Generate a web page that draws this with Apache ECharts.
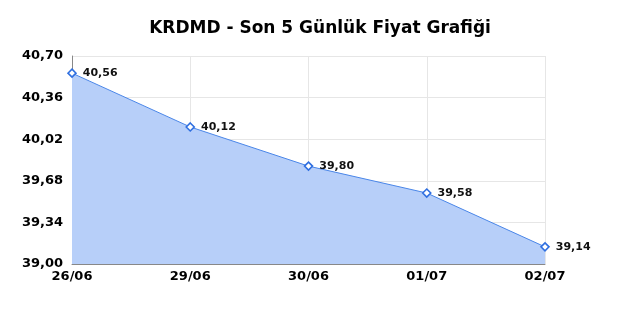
<!DOCTYPE html>
<html><head><meta charset="utf-8">
<script src="https://cdn.jsdelivr.net/npm/echarts@6/dist/echarts.min.js"></script>
<style>html,body{margin:0;padding:0;background:#fff}#c{width:640px;height:320px}</style>
</head><body><div id="c"></div>
<script>
const categories = ['26/06','29/06','30/06','01/07','02/07'];
const prices = [40.56, 40.12, 39.80, 39.58, 39.14];
const yMin = 39.00, yMax = 40.70, yStep = 0.34;
const titleText = 'KRDMD - Son 5 Günlük Fiyat Grafiği';
const fmt = v => v.toFixed(2).replace('.', ',');
const chart = echarts.init(document.getElementById('c'));
chart.setOption({
  animation: false,
  title: { text: titleText, left: 'center', top: 15,
    textStyle: { fontFamily: 'DejaVu Sans', fontSize: 17, fontWeight: 'bold', color: '#000' } },
  grid: { left: 72, right: 95, top: 56, bottom: 56 },
  xAxis: { type: 'category', data: categories, boundaryGap: false,
    axisLine: { lineStyle: { color: '#888', width: 1 } },
    axisTick: { show: false },
    axisLabel: { fontFamily: 'DejaVu Sans', fontSize: 13, fontWeight: 'bold', color: '#000', margin: 6 },
    splitLine: { show: true, lineStyle: { color: '#e6e6e6' } } },
  yAxis: { type: 'value', min: yMin, max: yMax, interval: yStep,
    axisLine: { show: true, lineStyle: { color: '#888', width: 1 } },
    axisTick: { show: false },
    axisLabel: { fontFamily: 'DejaVu Sans', fontSize: 13, fontWeight: 'bold', color: '#000', margin: 9, formatter: fmt },
    splitLine: { show: true, lineStyle: { color: '#e6e6e6' } } },
  series: [{ type: 'line', data: prices,
    symbol: 'diamond', symbolSize: 8,
    itemStyle: { color: '#fff', borderColor: '#2f6fe0', borderWidth: 1.6 },
    lineStyle: { color: '#4a86e8', width: 1 },
    areaStyle: { color: '#b7cff9', opacity: 1 },
    label: { show: true, position: 'right', distance: 6, fontFamily: 'DejaVu Sans', fontSize: 11, fontWeight: 'bold', color: '#111',
      formatter: p => fmt(p.value) } }]
});
</script></body></html>
